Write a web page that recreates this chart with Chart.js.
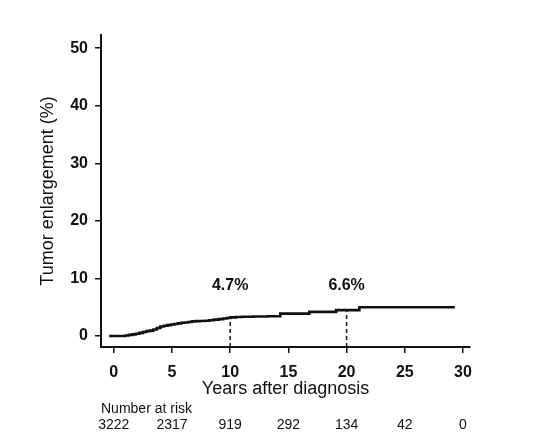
<!DOCTYPE html>
<html>
<head>
<meta charset="utf-8">
<script src="https://cdn.jsdelivr.net/npm/chart.js@4.4.1/dist/chart.umd.min.js"></script>
<style>
  html, body { margin: 0; padding: 0; background: #fff; }
  #wrap { width: 541px; height: 446px; }
</style>
</head>
<body>
<div id="wrap"><canvas id="kmChart" width="541" height="446"></canvas></div>
<script>
// ===== Data =====
const years = [-0.4, 0.7, 1.0, 1.3, 1.6, 1.9, 2.2, 2.5, 2.8, 3.1, 3.4, 3.7, 4.0, 4.3, 4.6, 4.9, 5.2, 5.5, 5.8, 6.1, 6.4, 6.7, 7.0, 7.4, 7.8, 8.2, 8.6, 9.0, 9.4, 9.7, 10.0, 10.5, 11.0, 12.0, 13.2, 14.3, 16.8, 19.1, 21.1, 29.3];
const enlargement = [0, 0, 0.1, 0.2, 0.3, 0.4, 0.55, 0.7, 0.85, 0.95, 1.15, 1.4, 1.65, 1.8, 1.9, 2.0, 2.1, 2.2, 2.3, 2.35, 2.45, 2.55, 2.6, 2.62, 2.65, 2.75, 2.85, 2.95, 3.05, 3.15, 3.25, 3.3, 3.35, 3.4, 3.45, 3.9, 4.2, 4.5, 5.0, 5.0];

const markYears = [10, 20];
const markLabels = ['4.7%', '6.6%'];
const markLabelY = 8.8;

const riskYears = [0, 5, 10, 15, 20, 25, 30];
const numberAtRisk = [3222, 2317, 919, 292, 134, 42, 0];

const xTicks = [0, 5, 10, 15, 20, 25, 30];
const yTicks = [0, 10, 20, 30, 40, 50];

// value of the step curve at a given year
function curveAt(t) {
    let v = enlargement[0];
    years.forEach((x, i) => { if (x <= t) v = enlargement[i]; });
    return v;
}

const curvePoints = years.map((x, i) => ({ x: x, y: enlargement[i] }));

const dashSets = markYears.map(t => ({
    data: [{ x: t, y: -1.9 }, { x: t, y: curveAt(t) }],
    borderColor: '#222',
    borderWidth: 1.6,
    borderDash: [4, 3],
    pointRadius: 0,
    fill: false
}));

// ===== Text annotations + number at risk =====
const annotate = {
    id: 'annotate',
    afterDatasetsDraw(chart) {
        const ctx = chart.ctx;
        const xs = chart.scales.x, ys = chart.scales.y;
        ctx.save();
        ctx.fillStyle = '#111';
        ctx.textAlign = 'center';
        ctx.textBaseline = 'middle';
        ctx.font = 'bold 16px "Liberation Sans", Arial, sans-serif';
        markYears.forEach((t, i) => {
            ctx.fillText(markLabels[i], xs.getPixelForValue(t), ys.getPixelForValue(markLabelY));
        });

        ctx.textAlign = 'left';
        ctx.font = '14px "Liberation Sans", Arial, sans-serif';
        ctx.fillText('Number at risk', 101, 409);

        ctx.textAlign = 'center';
        riskYears.forEach((t, i) => {
            ctx.fillText(String(numberAtRisk[i]), xs.getPixelForValue(t), 425);
        });
        ctx.restore();
    }
};

new Chart(document.getElementById('kmChart'), {
    type: 'line',
    data: {
        datasets: [{
            data: curvePoints,
            borderColor: '#111',
            borderWidth: 2.6,
            stepped: 'before',
            pointRadius: 0,
            fill: false
        }, ...dashSets]
    },
    options: {
        responsive: false,
        animation: false,
        layout: { padding: { left: 0, right: 71, top: 35, bottom: 46 } },
        plugins: { legend: { display: false }, tooltip: { enabled: false } },
        scales: {
            x: {
                type: 'linear',
                min: -1.1,
                max: 30.6,
                afterFit(scale) { scale.height = 53; },
                afterBuildTicks(scale) { scale.ticks = xTicks.map(v => ({ value: v })); },
                border: { color: '#111', width: 2 },
                grid: { drawOnChartArea: false, color: '#111', tickLength: 6, lineWidth: 1.5 },
                ticks: {
                    color: '#111',
                    padding: 10,
                    maxRotation: 0,
                    font: { family: '"Liberation Sans", Arial, sans-serif', size: 16, weight: 'bold' }
                },
                title: {
                    display: true,
                    text: 'Years after diagnosis',
                    color: '#111',
                    padding: { top: 0, bottom: 0 },
                    font: { family: '"Liberation Sans", Arial, sans-serif', size: 18 }
                }
            },
            y: {
                min: -1.9,
                max: 52.3,
                afterFit(scale) { scale.width = 101; },
                afterBuildTicks(scale) { scale.ticks = yTicks.map(v => ({ value: v })); },
                border: { color: '#111', width: 2 },
                grid: { drawOnChartArea: false, color: '#111', tickLength: 6, lineWidth: 1.5 },
                ticks: {
                    color: '#111',
                    padding: 7,
                    font: { family: '"Liberation Sans", Arial, sans-serif', size: 16, weight: 'bold' }
                },
                title: {
                    display: true,
                    text: 'Tumor enlargement (%)',
                    color: '#111',
                    padding: { top: 37, bottom: 0 },
                    font: { family: '"Liberation Sans", Arial, sans-serif', size: 18 }
                }
            }
        }
    },
    plugins: [annotate]
});
</script>
</body>
</html>
